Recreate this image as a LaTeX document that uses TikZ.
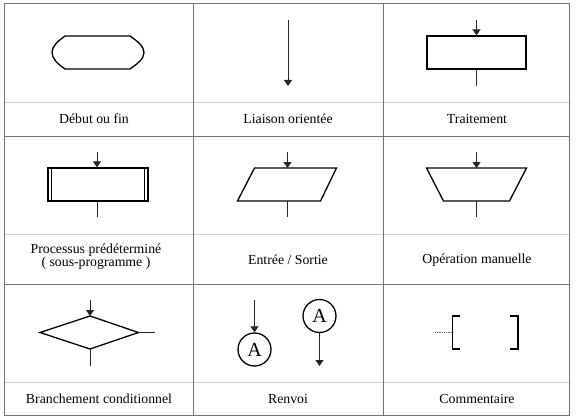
\documentclass[tikz,border=0pt]{standalone}
\usepackage{fontspec}
\setmainfont{Liberation Serif}
\usetikzlibrary{arrows.meta}
\tikzset{
  grid/.style={draw=black!55,line width=1pt},
  sep/.style={draw=black!18,line width=0.8pt},
  shp/.style={draw=black,line width=1.3pt,line join=miter},
  conn/.style={draw=black!85,line width=1pt},
  arr/.style={conn,-{Triangle[length=6pt,width=8pt]}},
  lbl/.style={font=\fontsize{13.8}{13.5}\selectfont,inner sep=0pt,align=center},
  circ/.style={shp,circle,minimum size=33pt,inner sep=0pt,font=\fontsize{20}{20}\selectfont},
  rbox/.style={shp,rectangle,inner sep=0pt}
}
\begin{document}
\begin{tikzpicture}[x=1pt,y=-1pt]
\useasboundingbox (0,0) rectangle (576,420);
% grid
\draw[sep] (4,102) -- (569,102);
\draw[sep] (4,234) -- (569,234);
\draw[sep] (4,382) -- (569,382);
\draw[grid] (4,4) rectangle (569,415);
\draw[grid] (193,4) -- (193,415);
\draw[grid] (383,4) -- (383,415);
\draw[grid] (4,136) -- (569,136);
\draw[grid] (4,284) -- (569,284);
% labels
\node[lbl] (l1) at (94,119) {Début ou fin};
\node[lbl] (l2) at (288,119) {Liaison orientée};
\node[lbl] (l3) at (477,119) {Traitement};
\node[lbl] (l4) at (96,256.5) {Processus prédéterminé\\( sous-programme )};
\node[lbl] (l5) at (288,260) {Entrée / Sortie};
\node[lbl] (l6) at (477,260) {Opération manuelle};
\node[lbl] (l7) at (99,399) {Branchement conditionnel};
\node[lbl] (l8) at (288,399) {Renvoi};
\node[lbl] (l9) at (477,399) {Commentaire};
% 1: terminator
\draw[shp] (65,36) -- (130,36) .. controls (137,41) and (144,46) .. (144,52.5)
  .. controls (144,59) and (137,64) .. (130,69) -- (65,69)
  .. controls (58,64) and (52,59) .. (52,52.5)
  .. controls (52,46) and (58,41) .. (65,36) -- cycle;
% 2: oriented link
\coordinate (a2s) at (288,20);
\coordinate (a2e) at (288,86);
\draw[arr] (a2s) -- (a2e);
% 3: process
\node[rbox,minimum width=99pt,minimum height=33pt] (proc) at (476.5,52.5) {};
\coordinate (p3in) at (476.5,20);
\coordinate (p3out) at (476.5,86);
\draw[arr] (p3in) -- (proc.north);
\draw[conn] (proc.south) -- (p3out);
% 4: predefined process
\node[rbox,minimum width=100pt,minimum height=33pt] (sub) at (98,184.5) {};
\draw[shp] ([xshift=4pt]sub.north west) -- ([xshift=4pt]sub.south west);
\draw[shp] ([xshift=-4pt]sub.north east) -- ([xshift=-4pt]sub.south east);
\coordinate (p4in) at (97,151.5);
\coordinate (p4out) at (97,217);
\draw[arr] (p4in) -- (sub.north -| p4in);
\draw[conn] (sub.south -| p4out) -- (p4out);
% 5: input/output
\coordinate (io1) at (254.5,168);
\coordinate (io2) at (336.5,168);
\coordinate (io3) at (320.5,201);
\coordinate (io4) at (237.5,201);
\draw[shp] (io1) -- (io2) -- (io3) -- (io4) -- cycle;
\coordinate (p5in) at (287.5,151.5);
\coordinate (p5top) at (287.5,168);
\coordinate (p5bot) at (287.5,201);
\coordinate (p5out) at (287.5,217);
\draw[arr] (p5in) -- (p5top);
\draw[conn] (p5bot) -- (p5out);
% 6: manual operation
\coordinate (mo1) at (426.5,168);
\coordinate (mo2) at (526.5,168);
\coordinate (mo3) at (509.5,201);
\coordinate (mo4) at (443.5,201);
\draw[shp] (mo1) -- (mo2) -- (mo3) -- (mo4) -- cycle;
\coordinate (p6in) at (476.5,151.5);
\coordinate (p6top) at (476.5,168);
\coordinate (p6bot) at (476.5,201);
\coordinate (p6out) at (476.5,217);
\draw[arr] (p6in) -- (p6top);
\draw[conn] (p6bot) -- (p6out);
% 7: decision
\coordinate (dt) at (90,316);
\coordinate (dr) at (138.5,332.5);
\coordinate (db) at (90,349);
\coordinate (dl) at (40,332.5);
\draw[shp] (dt) -- (dr) -- (db) -- (dl) -- cycle;
\coordinate (p7in) at (90,299.5);
\coordinate (p7out) at (90,366);
\coordinate (p7side) at (155,332.5);
\draw[arr] (p7in) -- (dt);
\draw[conn] (db) -- (p7out);
\draw[conn] (dr) -- (p7side);
% 8: connectors
\node[circ] (c1) at (254.5,349.5) {A};
\node[circ] (c2) at (319.5,316) {A};
\coordinate (p8in) at (254.5,299.5);
\coordinate (p8out) at (319.5,366);
\draw[arr] (p8in) -- (c1.north);
\draw[arr] (c2.south) -- (p8out);
% 9: comment
\coordinate (bl) at (452.5,332.5);
\draw[shp] (460,316) -- (452.5,316) -- (452.5,349) -- (460,349);
\draw[shp] (509.5,316) -- (518,316) -- (518,349) -- (509.5,349);
\coordinate (dotst) at (435,332.5);
\draw[draw=black!60,line width=0.8pt,dash pattern=on 1pt off 0.8pt] (dotst) -- (bl);
\end{tikzpicture}
\end{document}
